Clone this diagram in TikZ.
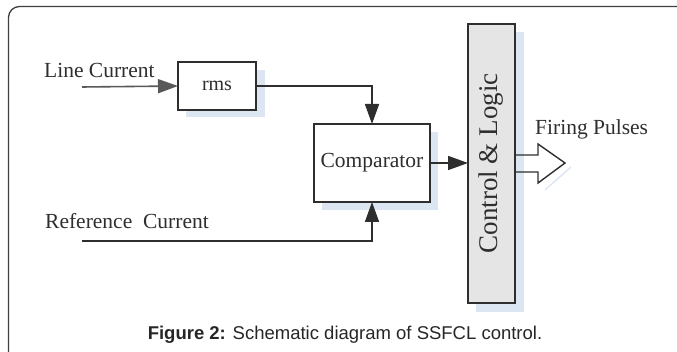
\documentclass[tikz,border=0pt]{standalone}
\usepackage{fontspec}
\setmainfont{Liberation Serif}
\newfontfamily\capfont{Liberation Sans}
\usetikzlibrary{arrows.meta}
\definecolor{shadowblue}{HTML}{DCE6F2}
\definecolor{ink}{HTML}{2E2E2E}
\tikzset{
  blockbox/.style={draw=ink, line width=1.6pt, fill=white, inner sep=0pt, outer sep=0pt, text=ink},
  blockshadow/.style={fill=shadowblue, draw=none},
  wire/.style={draw=ink, line width=1.6pt},
  arr/.style={wire, -{Triangle[length=20pt,width=14pt]}},
  lbl/.style={text=ink, inner sep=0pt, anchor=west, font=\fontsize{21.5}{24}\selectfont},
}
\begin{document}
\begin{tikzpicture}[x=1pt,y=-1pt]
\useasboundingbox (0,0) rectangle (677,352);
\clip (0,0) rectangle (677,352);
% frame
\draw[draw=black!75, line width=1.3pt, rounded corners=11pt] (8.5,400) -- (8.5,6.5) -- (720,6.5);
% shadows
\fill[blockshadow] (186,70) rectangle (265,117);
\fill[blockshadow] (322,132) rectangle (438,210);
\fill[blockshadow] (476,32) rectangle (524,312);
% blocks
\node[blockbox, minimum width=78pt, minimum height=48pt, font=\fontsize{20}{22}\selectfont] (rms) at (217,86) {rms};
\node[blockbox, minimum width=116pt, minimum height=78pt, font=\fontsize{21.5}{24}\selectfont] (comp) at (372,163) {Comparator};
\node[blockbox, fill=black!10, minimum width=47pt, minimum height=279pt] (ctrl) at (491.5,163.5) {};
\node[text=ink, rotate=90, font=\fontsize{27}{30}\selectfont, inner sep=0pt] (ctrltxt) at (ctrl.center) {Control \& Logic};
% labels
\node[lbl] (lc) at (44,70) {Line Current};
\node[lbl] (rc) at (45,221) {Reference\ \ Current};
\node[lbl] (fp) at (535,129) {Firing Pulses};
% coordinates
\coordinate (lcin) at (82,87);
\coordinate (refin) at (82,241);
% connectors
\draw[arr, draw=black!65] (lcin) -- (rms.west);
\draw[arr] (rms.east) -| (comp.north);
\draw[arr] (refin) -| (comp.south);
\draw[arr] (comp.east) -- (ctrl.west |- comp.east);
% hollow output arrow
\coordinate (hu) at (ctrl.east |- 0,155);
\coordinate (hl) at (ctrl.east |- 0,172);
\draw[shadowblue, line width=1.4pt] (571,167) -- (545,190);
\draw[wire, line width=1.4pt, line join=miter] (hu) -- (538,155) -- (538,144) -- (565,163) -- (538,183) -- (538,172) -- (hl);
% caption
\node[text=black!85, font=\capfont\fontsize{18.5}{21}\selectfont, inner sep=0pt] (cap) at (345,335) {\textbf{Figure 2:} Schematic diagram of SSFCL control.};
\end{tikzpicture}
\end{document}
